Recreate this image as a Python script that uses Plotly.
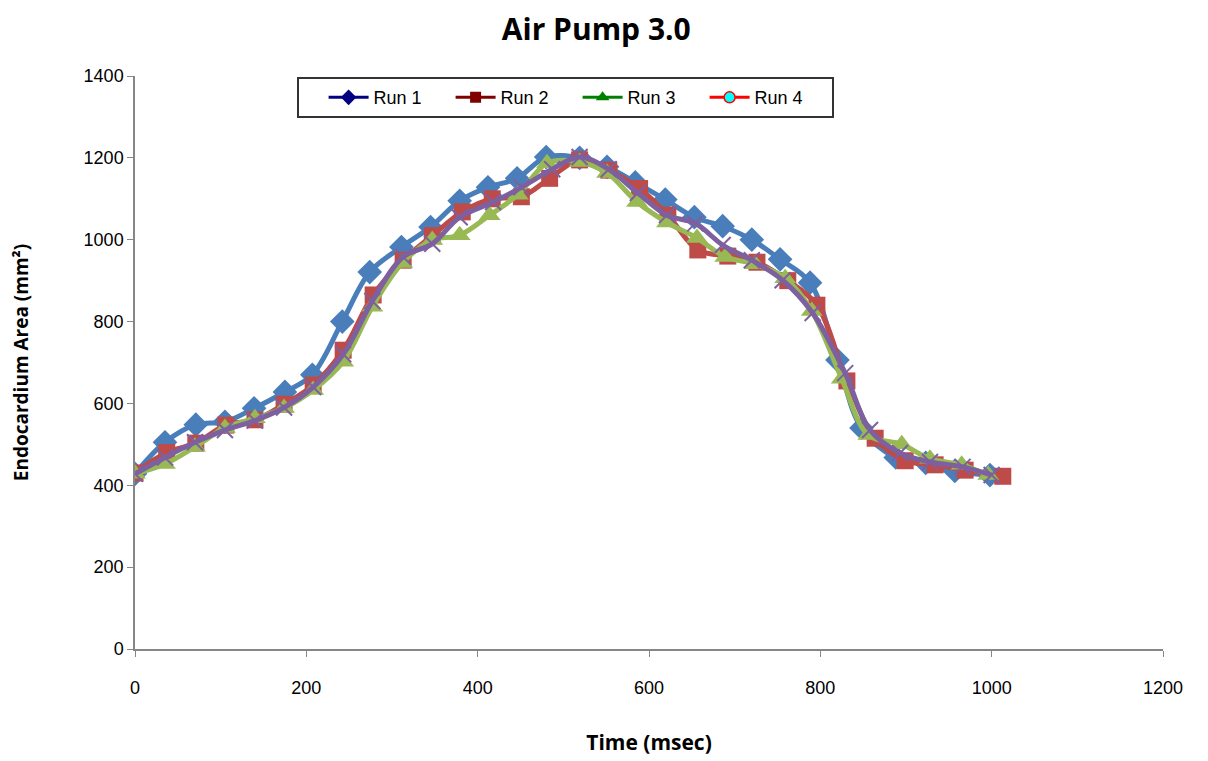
import plotly.graph_objects as go

# ---- data ----
run1_t = [0, 35, 71, 105, 139, 175, 207, 242, 274, 311, 345, 379, 412, 446, 480,
          519, 551, 584, 619, 653, 686, 720, 753, 788, 820, 848, 888, 923, 957, 998]
run1_y = [428, 505, 548, 555, 588, 628, 670, 800, 921, 982, 1031, 1095, 1128, 1150, 1202,
          1200, 1178, 1140, 1098, 1055, 1033, 1000, 952, 895, 706, 540, 468, 455, 435, 425]

run2_t = [0, 37, 71, 106, 140, 174, 208, 243, 278, 313, 347, 382, 417, 451, 484,
          519, 553, 589, 622, 657, 692, 726, 762, 796, 831, 864, 899, 934, 969, 1013]
run2_y = [430, 480, 503, 547, 560, 598, 645, 730, 865, 950, 1010, 1068, 1100, 1105, 1150,
          1195, 1170, 1125, 1060, 975, 960, 945, 900, 840, 655, 515, 460, 450, 437, 422]

run3_t = [0, 35, 70, 105, 140, 174, 208, 243, 277, 312, 347, 379, 414, 447, 481,
          519, 551, 586, 621, 656, 689, 724, 759, 790, 825, 856, 895, 928, 965, 996]
run3_y = [428, 452, 494, 540, 564, 589, 633, 702, 836, 943, 999, 1011, 1060, 1110, 1187,
          1190, 1163, 1092, 1042, 1004, 958, 940, 906, 826, 660, 523, 500, 465, 450, 425]

run4_t = [0, 35, 70, 105, 140, 174, 208, 243, 277, 313, 347, 379, 418, 451, 487,
          519, 553, 587, 621, 654, 686, 720, 756, 791, 829, 858, 893, 928, 966, 1000]
run4_y = [428, 468, 505, 535, 558, 590, 640, 720, 850, 958, 990, 1055, 1092, 1128, 1172,
          1202, 1172, 1114, 1060, 1040, 987, 950, 901, 821, 674, 535, 479, 457, 445, 425]

run_names = ["Run 1", "Run 2", "Run 3", "Run 4"]
x_ticks = [0, 200, 400, 600, 800, 1000, 1200]
y_ticks = [0, 200, 400, 600, 800, 1000, 1200, 1400]

fig = go.Figure()

# plotted series (Excel 2007 palette)
fig.add_trace(go.Scatter(x=run1_t, y=run1_y, mode="lines+markers", showlegend=False,
                         line=dict(color="#4A7EBB", width=5, shape="spline", smoothing=1.0),
                         marker=dict(symbol="diamond", size=19, color="#4A7EBB")))
fig.add_trace(go.Scatter(x=run2_t, y=run2_y, mode="lines+markers", showlegend=False,
                         line=dict(color="#BE4B48", width=5, shape="spline", smoothing=1.0),
                         marker=dict(symbol="square", size=17, color="#BE4B48")))
fig.add_trace(go.Scatter(x=run3_t, y=run3_y, mode="lines+markers", showlegend=False,
                         line=dict(color="#98B954", width=5, shape="spline", smoothing=1.0),
                         marker=dict(symbol="triangle-up", size=19, color="#98B954")))
fig.add_trace(go.Scatter(x=run4_t, y=run4_y, mode="lines+markers", showlegend=False,
                         line=dict(color="#7D60A0", width=5, shape="spline", smoothing=1.0),
                         marker=dict(symbol="x-thin", size=16, color="#7D60A0",
                                     line=dict(color="#7D60A0", width=2))))

# legend entries (styled as in the reference legend)
legend_styles = [
    dict(line=dict(color="#000080", width=3), marker=dict(symbol="diamond", size=12, color="#000080")),
    dict(line=dict(color="#800000", width=3), marker=dict(symbol="square", size=11, color="#800000")),
    dict(line=dict(color="#008000", width=3), marker=dict(symbol="triangle-up", size=12, color="#008000")),
    dict(line=dict(color="#FF0000", width=3), marker=dict(symbol="circle", size=11, color="#00FFFF",
                                                            line=dict(color="#FF0000", width=1.5))),
]
for name, st in zip(run_names, legend_styles):
    fig.add_trace(go.Scatter(x=[None], y=[None], mode="lines+markers", name=name, **st))

axis_common = dict(showline=True, linecolor="#868686", linewidth=1.5, ticks="outside",
                   ticklen=6, tickcolor="#868686", showgrid=False, zeroline=False,
                   tickfont=dict(family="Liberation Sans, Arial", size=18, color="#000000"))

fig.update_layout(
    width=1208, height=761,
    paper_bgcolor="white", plot_bgcolor="white",
    margin=dict(l=127, r=53, t=68, b=120),
    title=dict(text="<b>Air Pump 3.0</b>", x=0.487, xanchor="center", y=0.972, yanchor="middle",
               font=dict(family="Open Sans", size=30, color="#000000")),
    xaxis=dict(range=[0, 1200], tickvals=x_ticks, ticklabelstandoff=16,
               title=dict(text="<b>Time (msec)</b>", standoff=38,
                          font=dict(family="Open Sans", size=21, color="#000000")),
               **axis_common),
    yaxis=dict(range=[0, 1400], tickvals=y_ticks,
               title=dict(text="<b>Endocardium Area (mm²)</b>", standoff=50,
                          font=dict(family="Open Sans", size=19, color="#000000")),
               **axis_common),
    legend=dict(orientation="h", x=0.158, xanchor="left", y=0.998, yanchor="top",
                bgcolor="white", bordercolor="#333333", borderwidth=2,
                title=dict(text="&nbsp;&nbsp;&nbsp;", side="left",
                           font=dict(family="Liberation Sans", size=17)),
                font=dict(family="Liberation Sans Narrow, Liberation Sans, Arial", size=18, color="#000000"),
                entrywidth=72, entrywidthmode="pixels", itemwidth=40,
                valign="middle"),
)

fig.write_html("out.html")
